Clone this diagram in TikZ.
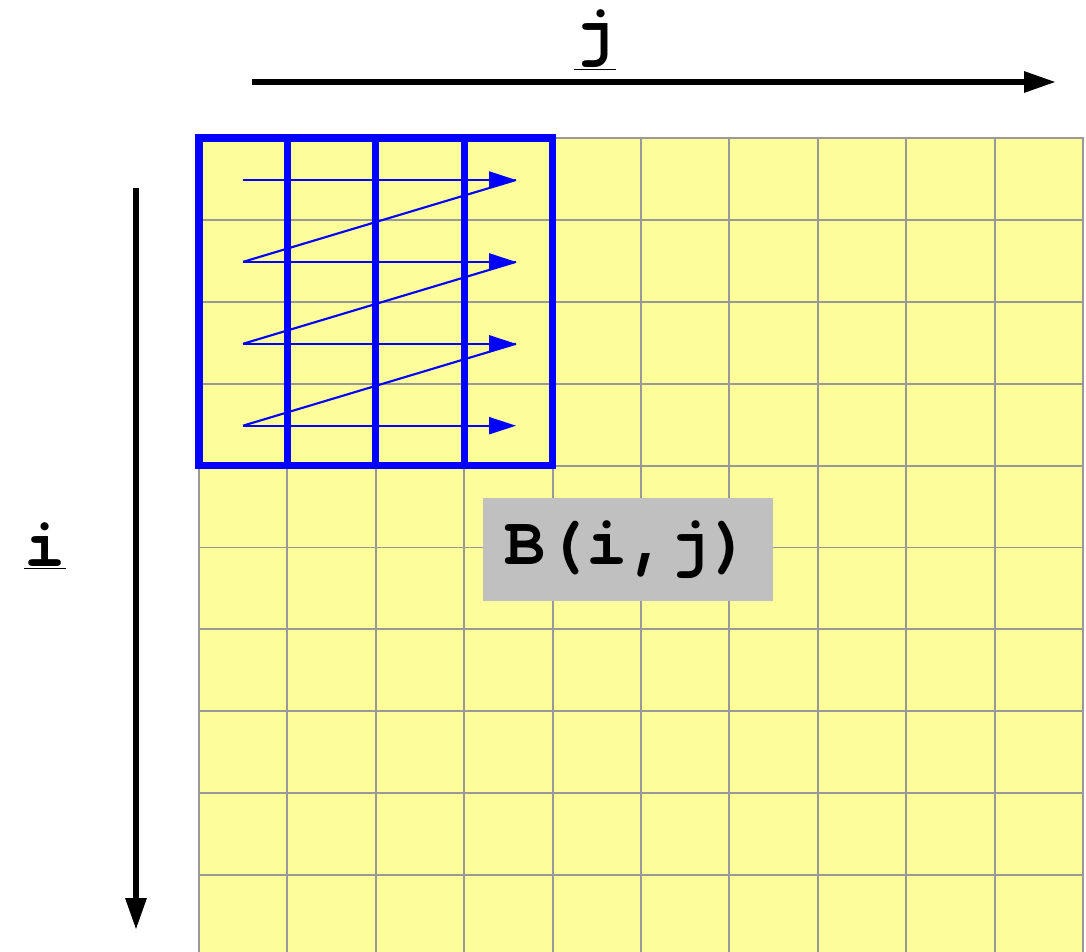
\documentclass[tikz,border=0pt]{standalone}
\usepackage{fontspec}
\setmonofont{texgyrecursor}[Extension=.otf,UprightFont=*-regular,BoldFont=*-bold]
\usepackage{xcolor}
\usetikzlibrary{arrows.meta}
\definecolor{cellyellow}{RGB}{253,253,153}
\definecolor{gridgray}{RGB}{153,153,153}
\definecolor{boxgray}{RGB}{192,192,192}

\begin{document}
\begin{tikzpicture}[x=0.02cm,y=-0.02cm,
  cell/.style={draw=gridgray,fill=cellyellow,line width=1.1pt},
  tile/.style={draw=blue,line width=4pt},
  axis/.style={line width=3.4pt,-{Triangle[length=0.64cm,width=0.4cm]}},
  sweep/.style={blue,line width=1.2pt},
  axislabel/.style={font=\fontsize{39}{44}\selectfont\ttfamily\bfseries,inner sep=0pt}]
\clip (0,0) rectangle (1086,952);
\fill[white] (0,0) rectangle (1086,952);
% matrix cells
\foreach \c in {0,...,9}
  \foreach \r in {0,...,9}
    \draw[cell] (199+\c*88.4,138+\r*81.9) rectangle ++(88.4,81.9);
% the block
\draw[tile] (199,138) rectangle (552.6,465.6);
\foreach \c in {1,2,3}
  \draw[tile] (199+\c*88.4,138) -- ++(0,327.6);
% traversal order
\foreach \r in {0,...,3} {
  \coordinate (s\r) at (243,180+\r*81.9);
  \coordinate (e\r) at (516,180+\r*81.9);
  \draw[sweep,-{Triangle[length=0.54cm,width=0.34cm]}] (s\r) -- (e\r);
}
\foreach \r [evaluate=\r as \p using int(\r-1)] in {1,2,3}
  \draw[sweep] (s\r) -- (e\p);
% axes
\node[axislabel] (jlab) at (595,40) {\underline{j}};
\coordinate (jfrom) at (252,82);
\coordinate (jto) at (1056,82);
\draw[axis] (jfrom) -- (jto);
\node[axislabel] (ilab) at (45,546) {\underline{i}};
\coordinate (ifrom) at (136,188);
\coordinate (ito) at (136,930);
\draw[axis] (ifrom) -- (ito);
\node[axislabel,fill=boxgray,minimum width=5.8cm,minimum height=2.06cm] (bij) at (628,549.5) {B(i,j)};
\end{tikzpicture}
\end{document}
